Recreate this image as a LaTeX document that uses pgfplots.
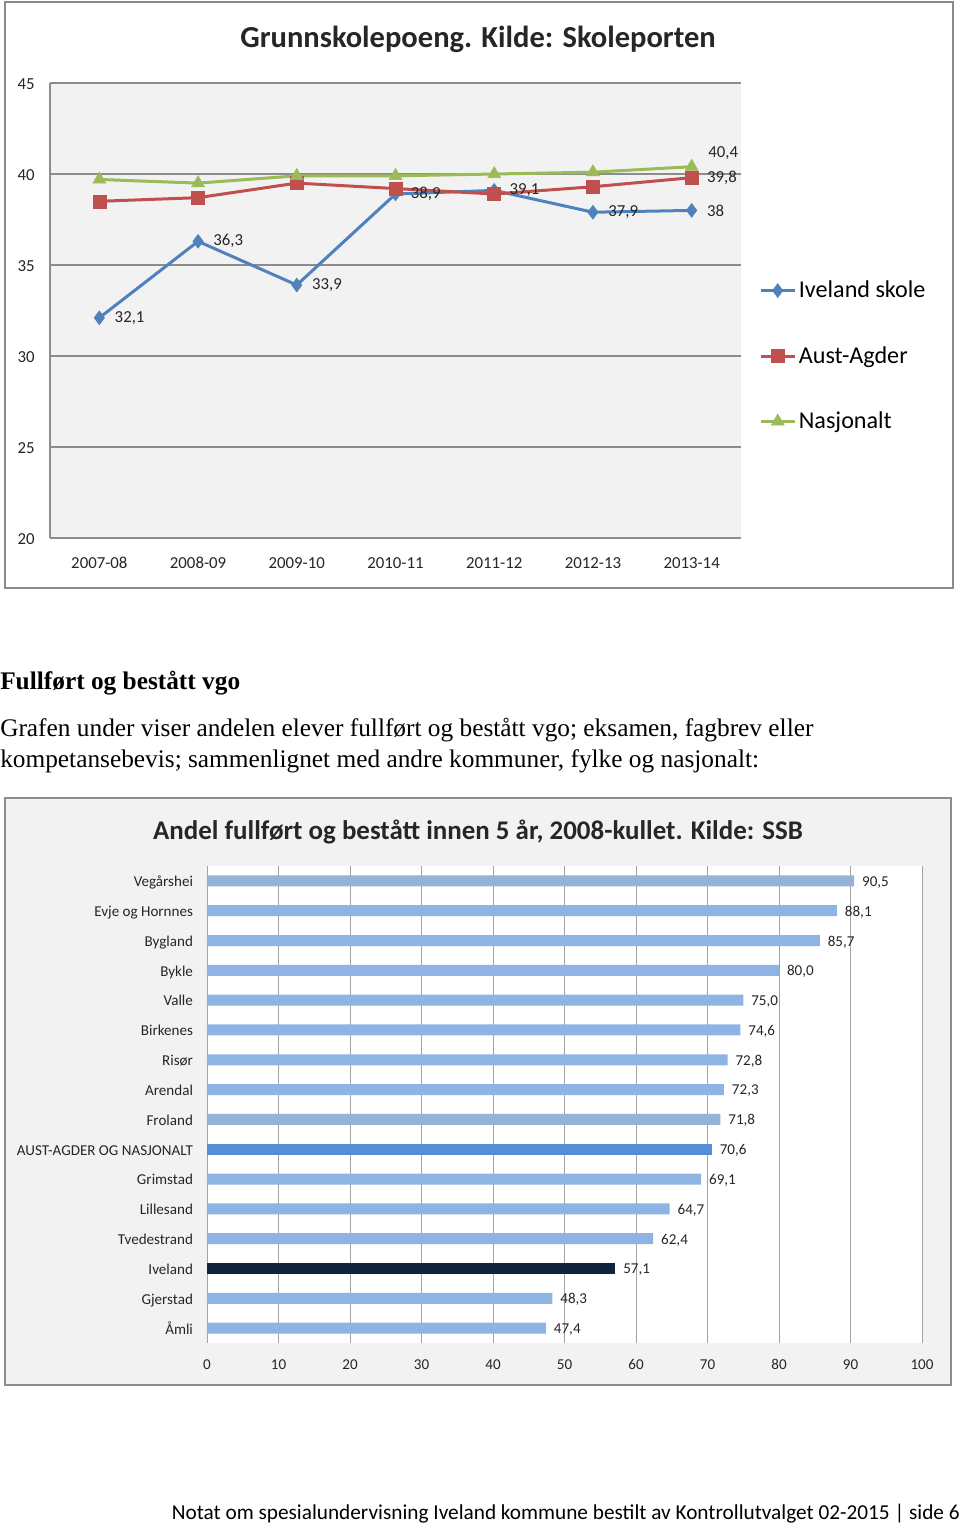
\documentclass[border=0pt]{standalone}
\usepackage{pgfplots}
\pgfplotsset{compat=1.18}
\usepackage{fontspec}
\setmainfont{Liberation Serif}
\newfontfamily\calibri{Carlito}
\definecolor{ivblue}{HTML}{4F81BD}
\definecolor{aared}{HTML}{C0504D}
\definecolor{nagreen}{HTML}{9BBB59}
\definecolor{barblue}{HTML}{8DB4E2}
\definecolor{bargray}{HTML}{95B3D7}
\definecolor{barmid}{HTML}{558ED5}
\definecolor{bardark}{HTML}{10243E}
\definecolor{plotgray}{HTML}{F2F2F2}
\definecolor{framegray}{HTML}{8C8C8C}
\definecolor{gridgray}{HTML}{8C8C8C}
\definecolor{labgray}{HTML}{262626}

\pgfplotstableread{
x y lab
0 32.1 32,1
1 36.3 36,3
2 33.9 33,9
3 38.9 38,9
4 39.1 39,1
5 37.9 37,9
6 38.0 38
}\iveland
\pgfplotstableread{
x y
0 38.5
1 38.7
2 39.5
3 39.2
4 38.9
5 39.3
6 39.8
}\austagder
\pgfplotstableread{
x y
0 39.7
1 39.5
2 39.9
3 39.9
4 40.0
5 40.1
6 40.4
}\nasjonalt

\begin{document}
\begin{tikzpicture}
\path[use as bounding box, fill=white] (0pt,0pt) rectangle (720pt,-1143.75pt);
% ---------- top chart ----------
\draw[framegray, line width=1.1pt, fill=white] (3.75pt,-1.5pt) rectangle (714.75pt,-441pt);
\node[font=\calibri\bfseries\fontsize{22.9}{26}\selectfont, text=black!85] at (358.5pt,-29.25pt) {Grunnskolepoeng. Kilde: Skoleporten};
\begin{axis}[
  at={(37.5pt,-403.5pt)}, anchor=south west,
  scale only axis, width=518.25pt, height=341.25pt,
  xmin=-0.5, xmax=6.5, ymin=20, ymax=45,
  ytick={20,25,...,45}, xtick={0,...,6},
  xticklabels={2007-08,2008-09,2009-10,2010-11,2011-12,2012-13,2013-14},
  /pgf/number format/assume math mode=true,
  typeset ticklabels with strut,
  axis x line*=bottom, axis y line*=left,
  axis line style={gridgray, line width=0.8pt, -},
  ymajorgrids, grid style={gridgray, line width=0.8pt},
  axis background/.style={fill=plotgray},
  tick label style={font=\calibri\fontsize{12.6}{15}\selectfont, text=labgray},
  major tick length=0pt,
  xticklabel style={yshift=-8.5pt},
  yticklabel style={xshift=-8pt, yshift=-1.5pt},
  legend style={at={(1.026,0.4)}, anchor=west, draw=none, fill=none,
    font=\calibri\fontsize{18.1}{21}\selectfont, row sep=31pt, legend cell align=left,
    inner sep=0pt},
  legend image code/.code={\draw[mark repeat=2, mark phase=2, #1] plot coordinates {(0pt,0pt) (12.75pt,0pt) (25.5pt,0pt)};},
  clip=false,
]
\addplot[color=ivblue, line width=2.25pt, mark=diamond*, mark size=5.2pt, mark options={solid, line width=0.4pt},
  nodes near coords, point meta=explicit symbolic,
  nodes near coords style={anchor=west, xshift=8pt, font=\calibri\fontsize{12.6}{15}\selectfont, text=labgray}]
  table[x=x, y=y, meta=lab] {\iveland};
\addlegendentry{Iveland skole}
\addplot[color=aared, line width=2.25pt, mark=square*, mark size=4.9pt, mark options={solid, line width=0.4pt}]
  table[x=x, y=y] {\austagder};
\addlegendentry{Aust-Agder}
\addplot[color=nagreen, line width=2.25pt, mark=triangle*, mark size=5.6pt, mark options={solid, line width=0.4pt}]
  table[x=x, y=y] {\nasjonalt};
\addlegendentry{Nasjonalt}
\addplot[draw=none, forget plot, nodes near coords, point meta=explicit symbolic,
  nodes near coords style={anchor=west, xshift=8pt, font=\calibri\fontsize{12.6}{15}\selectfont, text=labgray}]
  coordinates {(6,39.8) [39,8]};
\addplot[draw=none, forget plot, nodes near coords, point meta=explicit symbolic,
  nodes near coords style={anchor=south west, xshift=9pt, yshift=2pt, font=\calibri\fontsize{12.6}{15}\selectfont, text=labgray}]
  coordinates {(6,40.4) [40,4]};
\end{axis}

% ---------- middle text ----------
\node[anchor=base west, inner sep=0pt, font=\bfseries\fontsize{19}{24}\selectfont] at (0pt,-516.75pt) {Fullført og bestått vgo};
\node[anchor=base west, inner sep=0pt, font=\fontsize{19}{24}\selectfont] at (0pt,-552pt) {Grafen under viser andelen elever fullført og bestått vgo; eksamen, fagbrev eller};
\node[anchor=base west, inner sep=0pt, font=\fontsize{19}{24}\selectfont] at (0pt,-575.25pt) {kompetansebevis; sammenlignet med andre kommuner, fylke og nasjonalt:};

% ---------- bottom chart ----------
\draw[framegray, line width=1.1pt, fill=plotgray] (3.75pt,-598.5pt) rectangle (713.25pt,-1038.75pt);
\node[font=\calibri\bfseries\fontsize{20.2}{24}\selectfont, text=black!85] at (358.5pt,-624pt) {Andel fullført og bestått innen 5 år, 2008-kullet. Kilde: SSB};
\begin{axis}[
  at={(155.25pt,-1007.25pt)}, anchor=south west,
  scale only axis, width=536.25pt, height=357.75pt,
  xbar, bar width=8.25pt, bar shift=0pt,
  xmin=0, xmax=100, ymin=-0.5, ymax=15.5, y dir=reverse,
  xtick={0,10,...,100}, ytick={0,...,15},
  yticklabels={Vegårshei,Evje og Hornnes,Bygland,Bykle,Valle,Birkenes,Risør,Arendal,Froland,AUST-AGDER OG NASJONALT,Grimstad,Lillesand,Tvedestrand,Iveland,Gjerstad,Åmli},
  /pgf/number format/assume math mode=true,
  typeset ticklabels with strut,
  xmajorgrids, grid style={gridgray!80, line width=0.6pt},
  axis line style={draw=none}, major tick length=0pt,
  axis background/.style={fill=white},
  tick label style={font=\calibri\fontsize{11.3}{13}\selectfont, text=labgray},
  xticklabel style={yshift=-7.25pt},
  yticklabel style={xshift=-7pt, yshift=-1.75pt},
  nodes near coords={\pgfmathprintnumber[use comma,fixed,fixed zerofill,precision=1,assume math mode=true]{\pgfplotspointmeta}},
  point meta=x,
  nodes near coords style={anchor=west, xshift=2.5pt, yshift=-1pt, font=\calibri\fontsize{11.3}{13}\selectfont, text=labgray},
  clip=false,
]
\addplot[fill=barblue, draw=none] coordinates {
(88.1,1) (85.7,2) (80.0,3) (75.0,4) (74.6,5) (72.8,6) (72.3,7)
(69.1,10) (64.7,11) (62.4,12) (48.3,14) (47.4,15)};
\addplot[fill=bargray, draw=none] coordinates {(90.5,0) (71.8,8)};
\addplot[fill=barmid, draw=none] coordinates {(70.6,9)};
\addplot[fill=bardark, draw=none] coordinates {(57.1,13)};
\end{axis}

% ---------- footer ----------
\node[anchor=base east, inner sep=0pt, font=\calibri\fontsize{15.95}{19}\selectfont] at (720pt,-1139.25pt) {Notat om spesialundervisning Iveland kommune bestilt av Kontrollutvalget 02-2015 | side 6};
\end{tikzpicture}
\end{document}
